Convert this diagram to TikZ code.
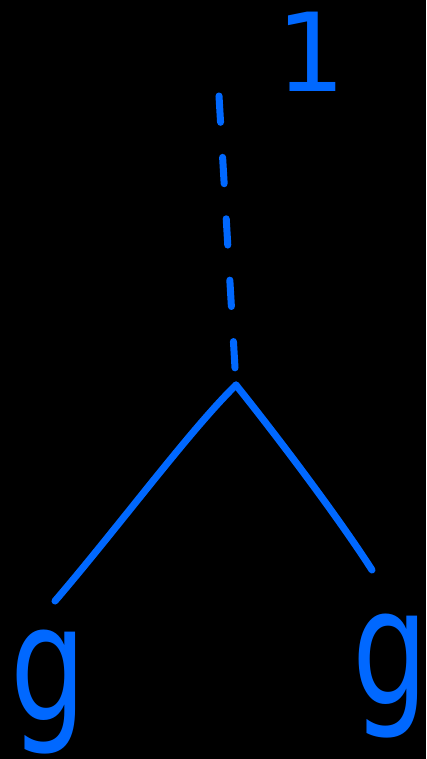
\documentclass[tikz,border=0pt]{standalone}
\usepackage{fontspec}
\setmainfont{DejaVu Sans}
\definecolor{penna}{RGB}{0,104,255}
\begin{document}
\begin{tikzpicture}[x=0.02cm,y=-0.02cm,line join=round,line cap=round,
    ramo/.style={draw=penna,line width=4pt},
    tratto/.style={ramo,dash pattern=on 15pt off 20pt},
    etic/.style={text=penna,inner sep=0pt},
    lettera/.style={etic,xscale=0.74,font=\fontsize{92pt}{92pt}\selectfont}]

  % sfondo nero, fissa anche i margini
  \fill[black] (0,0) rectangle (426,759);
  \useasboundingbox (0,0) rectangle (426,759);

  % ======================= vertici dell'albero ===================
  \coordinate (cima) at (219, 96);   % inizio del tratteggio
  \coordinate (nodo) at (236,385);   % vertice di diramazione
  \coordinate (sx)   at ( 55,601);   % foglia sinistra
  \coordinate (dx)   at (372,570);   % foglia destra

  \draw[tratto] (cima) -- (nodo);
  \draw[ramo] (nodo) .. controls (190,430) and (120,525) .. (sx);
  \draw[ramo] (nodo) .. controls (280,440) and (340,520) .. (dx);

  % etichette
  \node[etic,font=\fontsize{62pt}{62pt}\selectfont] (uno) at (311, 52) {1};
  \node[lettera] (g1) at ( 48,692) {g};
  \node[lettera] (g2) at (390,676) {g};

\end{tikzpicture}
\end{document}
